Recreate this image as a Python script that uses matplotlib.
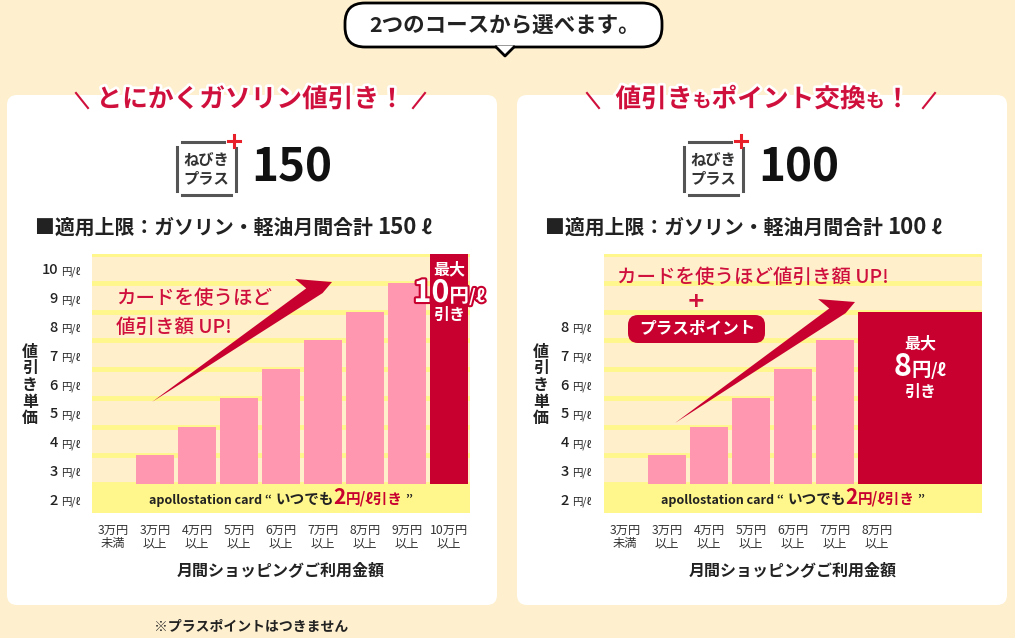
import matplotlib
matplotlib.use("Agg")
import matplotlib.pyplot as plt
import matplotlib.patheffects as pe
from matplotlib.patches import FancyBboxPatch, Polygon
import numpy as np

plt.rcParams['font.family'] = ['Noto Sans CJK JP', 'DejaVu Sans']

# --- data ---
left_cats = ['3万円\n未満', '3万円\n以上', '4万円\n以上', '5万円\n以上', '6万円\n以上',
             '7万円\n以上', '8万円\n以上', '9万円\n以上', '10万円\n以上']
left_vals = [2, 3, 4, 5, 6, 7, 8, 9, 10]      # 円/ℓ
left_ticks = [2, 3, 4, 5, 6, 7, 8, 9, 10]
right_cats = ['3万円\n未満', '3万円\n以上', '4万円\n以上', '5万円\n以上', '6万円\n以上',
              '7万円\n以上', '8万円\n以上']
right_vals = [2, 3, 4, 5, 6, 7, 8]
right_ticks = [2, 3, 4, 5, 6, 7, 8]
base_val = 2          # いつでも2円/ℓ引き
left_limit = 150
right_limit = 100

# --- colours ---
BG = '#FEEFCE'
CREAM = '#FFF0CB'
YEL = '#FFF78C'
PINK = '#FF97B1'
RED = '#C8002F'
HEAD = '#D0103C'
DARK = '#222222'

W, H = 1015, 638
fig = plt.figure(figsize=(W / 100, H / 100), dpi=100, facecolor=BG)

bg = fig.add_axes([0, 0, 1, 1])
bg.set_xlim(0, W)
bg.set_ylim(H, 0)
bg.axis('off')


def add_chart(x0, x1, y0=254, y1=513):
    return fig.add_axes([x0 / W, 1 - y1 / H, (x1 - x0) / W, (y1 - y0) / H], zorder=1)


axl = add_chart(92, 470)
axr = add_chart(604, 982)

ov = fig.add_axes([0, 0, 1, 1], zorder=5)
ov.set_xlim(0, W)
ov.set_ylim(H, 0)
ov.axis('off')


def to_px(ax, x, y):
    dx, dy = ax.transData.transform((x, y))
    return dx, H - dy


def runs(x, y, parts, ha='left', va='baseline', stroke=None):
    r = fig.canvas.get_renderer()
    ts = []
    cx = x
    for p in parts:
        s, size, color = p[:3]
        weight = p[3] if len(p) > 3 else 'bold'
        t = ov.text(cx, y, s, fontsize=size, color=color, fontweight=weight,
                    ha='left', va=va)
        if stroke:
            t.set_path_effects([pe.withStroke(linewidth=stroke[0], foreground=stroke[1])])
        cx += t.get_window_extent(r).width
        ts.append(t)
    off = {'left': 0, 'center': (cx - x) / 2, 'right': cx - x}[ha]
    for t in ts:
        t.set_x(t.get_position()[0] - off)


# --- panels & bubble ---
for x0 in (7, 517):
    bg.add_patch(FancyBboxPatch((x0, 95), 490, 510, boxstyle='round,pad=0,rounding_size=10',
                                fc='white', ec='none'))

bg.add_patch(FancyBboxPatch((345, 3), 317, 44, boxstyle='round,pad=0,rounding_size=20',
                            fc='white', ec='black', lw=2))
bg.add_patch(Polygon([(496, 46), (514, 46), (505, 56)], closed=True, fc='white', ec='none', zorder=3))
bg.plot([496, 505, 514], [47, 56, 47], color='black', lw=2, zorder=4)
bg.text(505, 25, '2つのコースから選べます。', fontsize=15.5, fontweight='bold',
        color=DARK, ha='center', va='center')

# --- headings ---
runs(251, 107, [('とにかくガソリン値引き！', 18.5, HEAD)], ha='center', stroke=(4, 'white'))
runs(763, 107, [('値引き', 18.5, HEAD), ('も', 13.5, HEAD), ('ポイント交換', 18.5, HEAD),
                ('も', 13.5, HEAD), ('！', 18.5, HEAD)], ha='center', stroke=(4, 'white'))
for (xa, xb) in ((76, 88), (587, 599)):
    ov.plot([xa, xb], [93, 108], color=HEAD, lw=1.5)
for (xa, xb) in ((413, 425), (923, 935)):
    ov.plot([xa, xb], [108, 93], color=HEAD, lw=1.5)

# --- logos ---
for dx, limit in ((0, left_limit), (507, right_limit)):
    g = '#555555'
    bg.plot([182 + dx, 224 + dx], [142, 142], color=g, lw=2.2)
    bg.plot([177 + dx, 177 + dx], [147, 191], color=g, lw=2.2)
    bg.plot([236 + dx, 236 + dx], [148, 191], color=g, lw=2.2)
    bg.plot([182 + dx, 231 + dx], [195, 195], color=g, lw=2.2)
    bg.plot([228 + dx, 240 + dx], [141, 141], color='#E8202A', lw=2.2)
    bg.plot([234 + dx, 234 + dx], [135, 147], color='#E8202A', lw=2.2)
    bg.text(206 + dx, 160, 'ねびき', fontsize=11, fontweight='bold', color='#333333',
            ha='center', va='center')
    bg.text(206 + dx, 178, 'プラス', fontsize=11, fontweight='bold', color='#333333',
            ha='center', va='center')
    bg.text(251 + dx, 169, str(limit), fontsize=33, fontweight='bold', color='#111111',
            ha='left', va='center')

runs(35, 234, [('■適用上限：ガソリン・軽油月間合計 ', 14.3, DARK), (str(left_limit), 16, DARK),
               (' ℓ', 14.3, DARK)])
runs(545, 234, [('■適用上限：ガソリン・軽油月間合計 ', 14.3, DARK), (str(right_limit), 16, DARK),
                (' ℓ', 14.3, DARK)])


# --- charts ---
def draw_chart(ax, cats, vals, ticks, ylab_x):
    ax.set_facecolor(CREAM)
    ax.set_xlim(-0.5, 8.5)
    ax.set_ylim(1, 10)
    ax.axhspan(1, base_val, color=YEL, zorder=0.5)
    ax.set_yticks(range(2, 11))
    ax.grid(axis='y', color=YEL, lw=3.5)
    ax.set_axisbelow(True)
    for s in ax.spines.values():
        s.set_visible(False)
    ax.tick_params(left=False, labelleft=False, length=0, pad=8)
    ax.set_xticks(range(len(cats)), cats, fontsize=8.8, linespacing=1.0, color='#333333')
    for v in ticks:
        _, py = to_px(ax, 0, v - 0.5)
        ov.text(ylab_x, py + 6, str(v), fontsize=10.5, fontweight='medium', color=DARK,
                ha='right', va='baseline')
        ov.text(ylab_x + 3, py + 6, '円/ℓ', fontsize=7.5, color=DARK, ha='left', va='baseline')
    x0, _ = to_px(ax, -0.5, 1)
    x1, yb = to_px(ax, 8.5, 1)
    ov.text((x0 + x1) / 2, 570, '月間ショッピングご利用金額', fontsize=11.5, fontweight='bold',
            color=DARK, ha='center', va='center')
    ov.text(ylab_x - 28, 385, '値\n引\nき\n単\n価', fontsize=11.5, fontweight='bold',
            color=DARK, ha='center', va='center', linespacing=1.05)
    _, py = to_px(ax, 0, (1 + base_val) / 2)
    runs((x0 + x1) / 2, py + 5, [('apollostation card', 9, DARK), (' “ ', 9, DARK),
                                  ('いつでも', 10.5, DARK), (str(base_val), 15, RED),
                                  ('円/ℓ引き', 10.5, RED), (' ”', 9, DARK)], ha='center')


draw_chart(axl, left_cats, left_vals, left_ticks, 58)
draw_chart(axr, right_cats, right_vals, right_ticks, 569)

# left bars
xl = np.arange(len(left_vals))
hl = np.array(left_vals) - base_val
axl.bar(xl[1:-1], hl[1:-1], bottom=base_val, width=0.92, color=PINK, zorder=2)
axl.bar(xl[-1], hl[-1], bottom=base_val, width=0.92, color=RED, zorder=2)

# right bars (last one spans to the edge)
xr = np.arange(len(right_vals))
hr = np.array(right_vals) - base_val
axr.bar(xr[1:-1], hr[1:-1], bottom=base_val, width=0.9, color=PINK, zorder=2)
axr.bar(xr[-1] - 0.45, hr[-1], bottom=base_val, width=8.5 - (xr[-1] - 0.45), align='edge',
        color=RED, zorder=2)


# --- arrows ---
def arrow(tail, tip):
    tail = np.array(tail, float)
    tip = np.array(tip, float)
    d = tip - tail
    L = np.hypot(*d)
    u = d / L
    n = np.array([u[1], -u[0]])
    if n[1] > 0:
        n = -n
    pts = [(-L, 0), (-25, 9), (-29, 23), (0, 0), (-14, -4)]
    poly = [tip + a * u + b * n for a, b in pts]
    ov.add_patch(Polygon(poly, closed=True, fc=RED, ec='none'))


arrow((152, 402), (332, 282))
arrow((675, 423), (855, 302))

ov.text(116, 299, 'カードを使うほど', fontsize=14, fontweight='medium', color=HEAD, va='center')
ov.text(116, 327, '値引き額 UP!', fontsize=14, fontweight='medium', color=HEAD, va='center')
ov.text(617, 277, 'カードを使うほど値引き額 UP!', fontsize=14, fontweight='medium', color=HEAD,
        va='center')
ov.text(696, 301, '+', fontsize=16, fontweight='bold', color=HEAD, ha='center', va='center',
        family='DejaVu Sans')
ov.add_patch(FancyBboxPatch((628, 315), 137, 28, boxstyle='round,pad=0,rounding_size=10',
                            fc=RED, ec='none'))
ov.text(697, 329, 'プラスポイント', fontsize=12, fontweight='bold', color='white',
        ha='center', va='center')

# --- labels on dark bars ---
cx, _ = to_px(axl, xl[-1], 10)
ov.text(cx, 269, '最大', fontsize=11.5, fontweight='bold', color='white', ha='center', va='center')
runs(cx, 302, [(str(left_vals[-1]), 22, 'white'), ('円', 14, 'white'), ('/ℓ', 12.5, 'white')],
     ha='center', stroke=(3, RED))
ov.text(cx, 315, '引き', fontsize=11.5, fontweight='bold', color='white', ha='center', va='center')

cx = (to_px(axr, xr[-1] - 0.45, 8)[0] + to_px(axr, 8.5, 8)[0]) / 2
ov.text(cx, 343, '最大', fontsize=11.5, fontweight='bold', color='white', ha='center', va='center')
runs(cx, 376, [(str(right_vals[-1]), 22, 'white'), ('円', 14, 'white'), ('/ℓ', 12.5, 'white')],
     ha='center')
ov.text(cx, 392, '引き', fontsize=11.5, fontweight='bold', color='white', ha='center', va='center')

ov.text(251, 627, '※プラスポイントはつきません', fontsize=10, fontweight='bold', color=DARK,
        ha='center', va='center')

fig.savefig('out.png', dpi=100, facecolor=BG)
